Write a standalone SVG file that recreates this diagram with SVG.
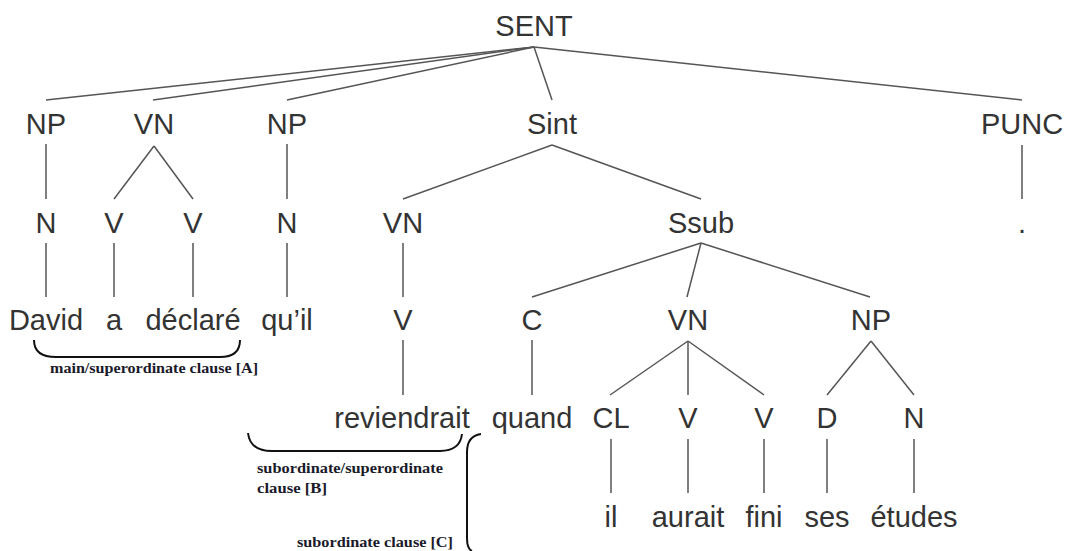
<svg xmlns="http://www.w3.org/2000/svg" width="1068" height="551" viewBox="0 0 1068 551">
<style>
.t{font-family:"Liberation Sans",Arial,sans-serif;font-size:29px;fill:#333;text-anchor:middle}
.e{stroke:#555;stroke-width:1.5;fill:none}
.b{stroke:#111;stroke-width:2;fill:none}
.a{font-family:"Liberation Serif","Times New Roman",serif;font-weight:bold;font-size:15px;fill:#1a1a2a}
</style>
<rect width="1068" height="551" fill="#fff"/>
<g id="connectors">
<line class="e" x1="534" y1="47" x2="46" y2="100"/>
<line class="e" x1="534" y1="47" x2="153" y2="100"/>
<line class="e" x1="534" y1="47" x2="287" y2="100"/>
<line class="e" x1="534" y1="47" x2="552" y2="100"/>
<line class="e" x1="534" y1="47" x2="1022" y2="100"/>
<line class="e" x1="46" y1="144" x2="46" y2="199"/>
<line class="e" x1="154" y1="146" x2="114" y2="199"/>
<line class="e" x1="154" y1="146" x2="193" y2="199"/>
<line class="e" x1="287" y1="144" x2="287" y2="199"/>
<line class="e" x1="552" y1="145" x2="403" y2="199"/>
<line class="e" x1="552" y1="145" x2="701" y2="199"/>
<line class="e" x1="1022" y1="145" x2="1022" y2="199"/>
<line class="e" x1="46" y1="243" x2="46" y2="297"/>
<line class="e" x1="114" y1="243" x2="114" y2="297"/>
<line class="e" x1="193" y1="243" x2="193" y2="297"/>
<line class="e" x1="287" y1="243" x2="287" y2="297"/>
<line class="e" x1="403" y1="243" x2="403" y2="297"/>
<line class="e" x1="701" y1="243" x2="532" y2="297"/>
<line class="e" x1="701" y1="243" x2="687" y2="297"/>
<line class="e" x1="701" y1="243" x2="870" y2="297"/>
<line class="e" x1="403" y1="340" x2="403" y2="395"/>
<line class="e" x1="532" y1="340" x2="532" y2="395"/>
<line class="e" x1="688" y1="341" x2="610" y2="395"/>
<line class="e" x1="688" y1="341" x2="688" y2="395"/>
<line class="e" x1="688" y1="341" x2="764" y2="395"/>
<line class="e" x1="871" y1="341" x2="827" y2="395"/>
<line class="e" x1="871" y1="341" x2="914" y2="395"/>
<line class="e" x1="611" y1="439" x2="611" y2="493"/>
<line class="e" x1="688" y1="439" x2="688" y2="493"/>
<line class="e" x1="764" y1="439" x2="764" y2="493"/>
<line class="e" x1="827" y1="439" x2="827" y2="493"/>
<line class="e" x1="914" y1="439" x2="914" y2="493"/>
</g>
<g id="n-sent"><text class="t" x="534" y="36">SENT</text></g>
<g id="n-np1"><text class="t" x="46" y="134">NP</text></g>
<g id="n-vn1"><text class="t" x="154" y="134">VN</text></g>
<g id="n-np2"><text class="t" x="287" y="134">NP</text></g>
<g id="n-sint"><text class="t" x="552" y="134">Sint</text></g>
<g id="n-punc"><text class="t" x="1022" y="134">PUNC</text></g>
<g id="n-n1"><text class="t" x="46" y="233">N</text></g>
<g id="n-v1"><text class="t" x="114" y="233">V</text></g>
<g id="n-v2"><text class="t" x="193" y="233">V</text></g>
<g id="n-n2"><text class="t" x="287" y="233">N</text></g>
<g id="n-vn2"><text class="t" x="403" y="233">VN</text></g>
<g id="n-ssub"><text class="t" x="701" y="233">Ssub</text></g>
<g id="n-dot"><text class="t" x="1022" y="233">.</text></g>
<g id="n-david"><text class="t" x="46" y="330">David</text></g>
<g id="n-a"><text class="t" x="114" y="330">a</text></g>
<g id="n-declare"><text class="t" x="193" y="330">déclaré</text></g>
<g id="n-quil"><text class="t" x="287" y="330">qu’il</text></g>
<g id="n-v3"><text class="t" x="403" y="330">V</text></g>
<g id="n-c"><text class="t" x="532" y="330">C</text></g>
<g id="n-vn3"><text class="t" x="688" y="330">VN</text></g>
<g id="n-np3"><text class="t" x="871" y="330">NP</text></g>
<g id="n-reviendrait"><text class="t" x="402" y="428">reviendrait</text></g>
<g id="n-quand"><text class="t" x="532" y="428">quand</text></g>
<g id="n-cl"><text class="t" x="611" y="428">CL</text></g>
<g id="n-v4"><text class="t" x="688" y="428">V</text></g>
<g id="n-v5"><text class="t" x="764" y="428">V</text></g>
<g id="n-d"><text class="t" x="827" y="428">D</text></g>
<g id="n-n3"><text class="t" x="914" y="428">N</text></g>
<g id="n-il"><text class="t" x="611" y="527">il</text></g>
<g id="n-aurait"><text class="t" x="688" y="527">aurait</text></g>
<g id="n-fini"><text class="t" x="764" y="527">fini</text></g>
<g id="n-ses"><text class="t" x="827" y="527">ses</text></g>
<g id="n-etudes"><text class="t" x="914" y="527">études</text></g>
<g id="brackets">
<path class="b" d="M34,340 Q34,357 56,357 L220,357 Q240,357 240,340"/>
<path class="b" d="M248,433 Q250,451 272,451 L440,451 Q460,451 462,434"/>
<path class="b" d="M481,434 Q467,436 467,452 L467,538 Q467,549 472,551"/>
</g>
<g id="labels">
<text class="a" x="50" y="373" textLength="208" lengthAdjust="spacingAndGlyphs">main/superordinate clause [A]</text>
<text class="a" x="257" y="473" textLength="186" lengthAdjust="spacingAndGlyphs">subordinate/superordinate</text>
<text class="a" x="257" y="493" textLength="70" lengthAdjust="spacingAndGlyphs">clause [B]</text>
<text class="a" x="297" y="547" textLength="156" lengthAdjust="spacingAndGlyphs">subordinate clause [C]</text>
</g>
</svg>
